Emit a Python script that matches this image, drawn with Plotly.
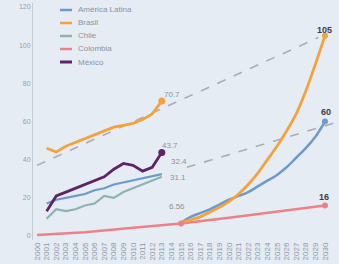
import plotly.graph_objects as go

years_axis = list(range(2000, 2031))
hist_years = list(range(2001, 2014))

brasil = [46, 44, 47, 49, 51, 53, 55, 57, 58, 59, 61, 64, 70.7]
mexico = [13, 21, 23, 25, 27, 29, 31, 35, 38, 37, 34, 36, 43.7]
latam = [17, 19, 20, 21, 22, 24, 25, 27, 28, 29, 30, 31, 32.4]
chile = [9, 14, 13, 14, 16, 17, 21, 20, 23, 25, 27, 29, 31.1]

col_years = [2000, 2005, 2010, 2015, 2020, 2025, 2030]
colombia = [0.5, 2.0, 4.3, 6.56, 9.5, 12.8, 16]

proj_years = list(range(2015, 2031))
brasil_proj = [7, 8.5, 10, 12.5, 15, 18, 22, 27, 33, 40, 47, 55, 64, 76, 90, 105]
latam_proj = [7, 10, 12, 14, 16.5, 19, 21, 23, 26, 29, 32, 36, 41, 46, 52, 60]

trend1_x = [2000, 2029.3]
trend1_y = [37, 104]
trend2_x = [2015.6, 2031.5]
trend2_y = [36, 60]

C_LATAM = "#6d9acb"
C_BRASIL = "#f3a33a"
C_CHILE = "#8db3b1"
C_COL = "#ee8088"
C_MEX = "#5e2468"
GRAY = "#8c939b"

fig = go.Figure()
dash = dict(color="#a9aeb4", width=1.6, dash="dash")
fig.add_trace(go.Scatter(x=trend1_x, y=trend1_y, mode="lines", line=dash, showlegend=False))
fig.add_trace(go.Scatter(x=trend2_x, y=trend2_y, mode="lines", line=dash, showlegend=False))

fig.add_trace(go.Scatter(x=col_years, y=colombia, mode="lines", line=dict(color=C_COL, width=2.5), showlegend=False))
fig.add_trace(go.Scatter(x=proj_years, y=latam_proj, mode="lines", line=dict(color=C_LATAM, width=2.5, shape="spline"), showlegend=False))
fig.add_trace(go.Scatter(x=proj_years, y=brasil_proj, mode="lines", line=dict(color=C_BRASIL, width=2.8, shape="spline"), showlegend=False))

fig.add_trace(go.Scatter(x=hist_years, y=chile, mode="lines", line=dict(color=C_CHILE, width=2.2), showlegend=False))
fig.add_trace(go.Scatter(x=hist_years, y=latam, mode="lines", line=dict(color=C_LATAM, width=2.2), showlegend=False))
fig.add_trace(go.Scatter(x=hist_years, y=brasil, mode="lines", line=dict(color=C_BRASIL, width=2.8), showlegend=False))
fig.add_trace(go.Scatter(x=hist_years, y=mexico, mode="lines", line=dict(color=C_MEX, width=2.8), showlegend=False))

# end markers
fig.add_trace(go.Scatter(x=[hist_years[-1]], y=[brasil[-1]], mode="markers", marker=dict(color=C_BRASIL, size=7), showlegend=False))
fig.add_trace(go.Scatter(x=[hist_years[-1]], y=[mexico[-1]], mode="markers", marker=dict(color=C_MEX, size=7), showlegend=False))
fig.add_trace(go.Scatter(x=[col_years[3], col_years[-1]], y=[colombia[3], colombia[-1]], mode="markers", marker=dict(color=C_COL, size=6), showlegend=False))
fig.add_trace(go.Scatter(x=[proj_years[-1]], y=[brasil_proj[-1]], mode="markers", marker=dict(color=C_BRASIL, size=6), showlegend=False))
fig.add_trace(go.Scatter(x=[proj_years[-1]], y=[latam_proj[-1]], mode="markers", marker=dict(color=C_LATAM, size=6), showlegend=False))

ann = []
small = dict(size=8, color=GRAY, family="Liberation Sans")
bold = dict(size=9, color="#3a3f45", family="Liberation Sans")
ann.append(dict(x=2014.1, y=74, text="70.7", font=small))
ann.append(dict(x=2013.9, y=47.5, text="43.7", font=small))
ann.append(dict(x=2014.8, y=38.8, text="32.4", font=small))
ann.append(dict(x=2014.7, y=30.4, text="31.1", font=small))
ann.append(dict(x=2014.6, y=15.5, text="6.56", font=small))
ann.append(dict(x=2030, y=108, text="<b>105</b>", font=bold))
ann.append(dict(x=2030.1, y=65, text="<b>60</b>", font=bold))
ann.append(dict(x=2029.9, y=20.5, text="<b>16</b>", font=bold))
for a in ann:
    a.update(xref="x", yref="y", showarrow=False)

# compact legend
legend_names = ["América Latina", "Brasil", "Chile", "Colombia", "México"]
legend_colors = [C_LATAM, C_BRASIL, C_CHILE, C_COL, C_MEX]
shapes = []
W, H = 339, 264
L, R, T, B = 33, 0, 3, 24
pw, ph = W - L - R, H - T - B
for i, (n, c) in enumerate(zip(legend_names, legend_colors)):
    ypix = 10 + i * 13
    yp = 1 - (ypix - T) / ph
    x0 = (60 - L) / pw
    x1 = (72 - L) / pw
    shapes.append(dict(type="line", xref="paper", yref="paper", x0=x0, x1=x1, y0=yp, y1=yp,
                       line=dict(color=c, width=2.5 if i < 4 else 3)))
    ann.append(dict(xref="paper", yref="paper", x=(76 - L) / pw, y=yp, text=n, showarrow=False,
                    xanchor="left", yanchor="middle", font=dict(size=8, color=GRAY, family="Liberation Sans")))

fig.update_layout(
    width=W, height=H,
    margin=dict(l=L, r=R, t=T, b=B),
    paper_bgcolor="#e6ecf4", plot_bgcolor="#e6ecf4",
    annotations=ann, shapes=shapes,
    xaxis=dict(range=[1999.58, 2031.46], tickvals=years_axis, ticktext=[str(y) for y in years_axis],
               tickangle=-90, tickfont=dict(size=8, color="#8e98a4", family="Liberation Sans"),
               showgrid=False, zeroline=False, showline=False, ticks="", automargin=False),
    yaxis=dict(range=[-2.1, 122.1], tickvals=[0, 20, 40, 60, 80, 100, 120],
               tickfont=dict(size=7, color="#9aa1a8", family="Liberation Sans"),
               showgrid=False, zeroline=False, showline=True, linecolor="#c3cad2", linewidth=1, ticks=""),
)

fig.write_html("out.html", config={"displayModeBar": False},
               post_script="document.body.style.margin='0';document.body.style.background='#e6ecf4';")
